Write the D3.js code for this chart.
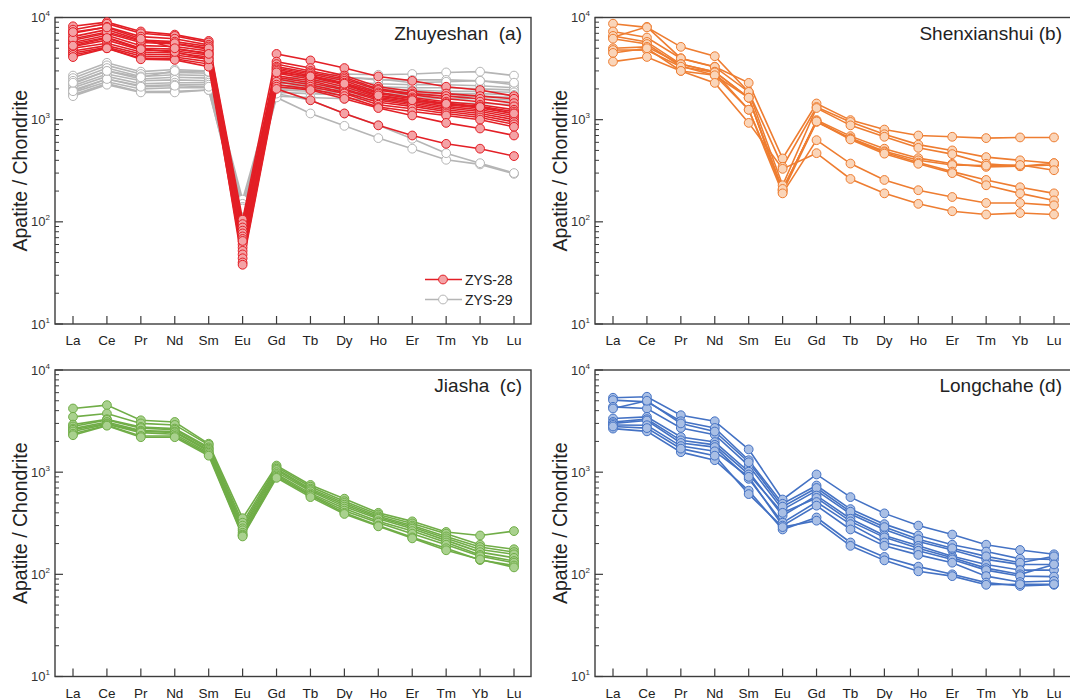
<!DOCTYPE html>
<html>
<head>
<meta charset="utf-8">
<script src="https://cdn.jsdelivr.net/npm/d3@7"></script>
<style>
  body { margin: 0; background: #fff; }
  svg { display: block; font-family: "Liberation Sans", Arial, sans-serif; }
</style>
</head>
<body>
<div id="chart"></div>
<script>
// REE elements on the x axis
const ree = ["La", "Ce", "Pr", "Nd", "Sm", "Eu", "Gd", "Tb", "Dy", "Ho", "Er", "Tm", "Yb", "Lu"];
const yExponents = [1, 2, 3, 4];

// Zhuyeshan, sample ZYS-28
const zys28 = [
  [8200, 9000, 7300, 6800, 5900, 105, 4400, 3800, 3200, 2650, 2400, 2100, 1950, 1700],
  [7600, 8700, 7000, 6600, 5700, 95, 3700, 3200, 2700, 2100, 1900, 1800, 1700, 1600],
  [7000, 8100, 6500, 6200, 5400, 88, 3500, 3000, 2600, 2000, 1800, 1700, 1600, 1450],
  [6500, 7600, 6000, 5800, 5200, 82, 3300, 2900, 2500, 1950, 1750, 1600, 1500, 1350],
  [6000, 7000, 5700, 5500, 4900, 77, 3200, 2800, 2400, 1850, 1650, 1500, 1400, 1250],
  [5700, 6700, 5300, 5200, 4700, 72, 3100, 2700, 2300, 1800, 1600, 1450, 1350, 1200],
  [5500, 6400, 5000, 4900, 4500, 68, 3000, 2600, 2200, 1700, 1550, 1400, 1300, 1150],
  [5200, 6000, 4800, 4700, 4300, 64, 2850, 2500, 2100, 1650, 1500, 1350, 1250, 1100],
  [5000, 5600, 4600, 4500, 4100, 60, 2700, 2400, 2000, 1600, 1450, 1300, 1200, 1050],
  [4700, 5300, 4400, 4300, 3900, 56, 2600, 2300, 1950, 1550, 1400, 1250, 1150, 1000],
  [4500, 5100, 4200, 4100, 3700, 52, 2500, 2200, 1850, 1480, 1350, 1200, 1100, 950],
  [4300, 5000, 4000, 3950, 3500, 48, 2350, 2100, 1800, 1400, 1280, 1150, 1050, 900],
  [4100, 5000, 3900, 3850, 3300, 44, 2200, 2000, 1700, 1330, 1200, 1100, 1000, 850],
  [6200, 7200, 5900, 5600, 5000, 40, 2100, 1950, 1600, 1300, 1100, 930, 820, 700],
  [5300, 6300, 4900, 4600, 3900, 38, 2000, 1550, 1150, 880, 700, 580, 520, 440],
  [7200, 8000, 6200, 5000, 4400, 65, 2900, 2650, 2250, 1730, 1550, 1430, 1330, 1150]
];

// Zhuyeshan, sample ZYS-29
const zys29 = [
  [2700, 3600, 2950, 3100, 3000, 165, 2450, 2700, 2800, 2750, 2800, 2900, 2950, 2700],
  [2550, 3400, 2800, 2900, 2850, 150, 2350, 2500, 2600, 2450, 2450, 2450, 2400, 2200],
  [2400, 3200, 2650, 2750, 2700, 140, 2250, 2350, 2350, 2250, 2200, 2200, 2150, 2050],
  [2250, 3000, 2500, 2600, 2550, 130, 2150, 2200, 2150, 2100, 2050, 2050, 2000, 1950],
  [2150, 2800, 2400, 2450, 2400, 125, 2050, 2100, 2050, 2000, 1950, 1900, 1900, 1850],
  [2050, 2650, 2250, 2300, 2300, 120, 2000, 2000, 1950, 1900, 1850, 1800, 1800, 1750],
  [1950, 2500, 2150, 2200, 2200, 115, 1950, 1900, 1850, 1800, 1750, 1700, 1700, 1650],
  [1850, 2350, 2000, 2050, 2050, 110, 1850, 1800, 1750, 1700, 1650, 1600, 1600, 1550],
  [1750, 2250, 1880, 1900, 1950, 105, 1700, 1650, 1600, 1550, 1500, 1450, 1450, 1400],
  [1700, 2200, 1850, 1850, 1950, 100, 1650, 1150, 870, 660, 520, 405, 365, 295],
  [1900, 2500, 2100, 2150, 2100, 110, 1800, 1550, 1150, 880, 650, 470, 375, 300],
  [2300, 3000, 2600, 3000, 2950, 135, 2250, 2300, 2600, 2500, 2300, 2350, 2400, 2300]
];

// Shenxianshui
const shenxianshui = [
  [6400, 8100, 4000, 3300, 2290, 417, 1440, 990, 800, 700, 680, 660, 670, 670],
  [8700, 8000, 5160, 4180, 1870, 345, 1330, 950, 720, 570, 500, 430, 400, 375],
  [7300, 6360, 3970, 3280, 1870, 228, 1300, 880, 680, 530, 460, 370, 350, 360],
  [6600, 5770, 3500, 2930, 1640, 203, 990, 690, 520, 420, 370, 345, 350, 375],
  [6200, 5500, 3330, 2720, 1640, 195, 950, 660, 490, 400, 360, 355, 360, 320],
  [5000, 5160, 3490, 2950, 1640, 205, 970, 650, 480, 380, 310, 257, 218, 190],
  [4800, 4790, 3300, 2900, 1250, 210, 960, 640, 465, 370, 300, 228, 190, 162],
  [4500, 5000, 3000, 2720, 1250, 190, 630, 372, 257, 204, 175, 153, 153, 145],
  [3700, 4110, 3000, 2290, 930, 330, 470, 263, 190, 150, 127, 118, 122, 118]
];

// Jiasha
const jiasha = [
  [4200, 4530, 3220, 3100, 1900, 354, 1160, 750, 550, 400, 330, 260, 240, 265],
  [3480, 3750, 3000, 2900, 1850, 320, 1120, 720, 520, 385, 315, 250, 195, 176],
  [2920, 3300, 2770, 2670, 1750, 300, 1080, 690, 500, 370, 300, 235, 185, 165],
  [2800, 3250, 2700, 2600, 1700, 282, 1050, 670, 480, 360, 290, 225, 175, 157],
  [2670, 3100, 2550, 2500, 1650, 270, 1000, 650, 460, 350, 280, 215, 165, 145],
  [2600, 3000, 2500, 2450, 1600, 255, 960, 620, 440, 330, 265, 205, 155, 135],
  [2500, 2950, 2440, 2350, 1550, 245, 930, 600, 420, 320, 250, 195, 150, 130],
  [2380, 2880, 2260, 2260, 1500, 240, 900, 590, 400, 300, 230, 180, 138, 122],
  [2300, 2850, 2200, 2200, 1450, 235, 880, 570, 390, 295, 225, 172, 140, 117]
];

// Longchahe
const longchahe = [
  [5350, 5470, 3610, 3150, 1670, 540, 950, 570, 395, 300, 245, 195, 173, 157],
  [5070, 4880, 3150, 2710, 1310, 490, 740, 435, 310, 240, 195, 167, 142, 140],
  [4360, 4200, 2710, 2330, 1160, 430, 660, 390, 275, 210, 173, 140, 125, 125],
  [4200, 5000, 3000, 2500, 1250, 460, 700, 410, 290, 220, 180, 150, 130, 150],
  [3350, 3480, 2210, 1970, 1010, 375, 590, 350, 240, 190, 150, 125, 110, 110],
  [3100, 3300, 2050, 1850, 950, 400, 560, 330, 230, 180, 145, 115, 100, 125],
  [3000, 3200, 1930, 1760, 860, 320, 510, 310, 205, 170, 140, 110, 96, 95],
  [2900, 2880, 1800, 1600, 900, 300, 470, 275, 190, 155, 130, 96, 84, 86],
  [2670, 2510, 1570, 1310, 660, 275, 360, 205, 148, 119, 100, 83, 77, 79],
  [2800, 2700, 1700, 1450, 610, 290, 335, 190, 137, 107, 96, 79, 80, 80]
];

const width = 1070, height = 699;
const svg = d3.select("#chart").append("svg")
  .attr("width", width)
  .attr("height", height);

const axisColor = "#3c3c3c";

function drawPanel(opts) {
  const { left, top, title, series } = opts;
  const right = left + 476, bottom = top + 306.5;
  const g = svg.append("g");

  const x = d3.scalePoint().domain(ree).range([left + 18, right - 17]);
  const y = d3.scaleLog().domain([10, 10000]).range([bottom, top]);

  // minor + major y ticks (inward)
  const minor = [];
  yExponents.slice(0, 3).forEach((e) => {
    for (let k = 2; k <= 9; k++) minor.push(k * Math.pow(10, e));
  });
  g.selectAll(".minor").data(minor).enter().append("line")
    .attr("x1", left).attr("x2", left + 4)
    .attr("y1", (d) => y(d)).attr("y2", (d) => y(d))
    .attr("stroke", axisColor).attr("stroke-width", 1);
  g.selectAll(".major").data(yExponents).enter().append("line")
    .attr("x1", left).attr("x2", left + 8)
    .attr("y1", (d) => y(Math.pow(10, d))).attr("y2", (d) => y(Math.pow(10, d)))
    .attr("stroke", axisColor).attr("stroke-width", 1.2);

  // y tick labels 10^n
  const lab = g.selectAll(".ylab").data(yExponents).enter().append("text")
    .attr("x", left - 5)
    .attr("y", (d) => y(Math.pow(10, d)) + 4.5)
    .attr("text-anchor", "end")
    .attr("font-size", 13)
    .attr("fill", "#333");
  lab.append("tspan").text("10");
  lab.append("tspan").attr("dy", -6).attr("font-size", 8).text((d) => d);

  // x ticks (inward) and labels
  g.selectAll(".xt").data(ree).enter().append("line")
    .attr("x1", (d) => x(d)).attr("x2", (d) => x(d))
    .attr("y1", bottom).attr("y2", bottom - 8)
    .attr("stroke", axisColor).attr("stroke-width", 1.2);
  g.selectAll(".xl").data(ree).enter().append("text")
    .attr("x", (d) => x(d))
    .attr("y", bottom + 21)
    .attr("text-anchor", "middle")
    .attr("font-size", 13.5)
    .attr("fill", "#222")
    .text((d) => d);

  // frame
  g.append("rect")
    .attr("x", left).attr("y", top)
    .attr("width", right - left).attr("height", bottom - top)
    .attr("fill", "none")
    .attr("stroke", axisColor)
    .attr("stroke-width", 1.4);

  // y title
  g.append("text")
    .attr("transform", `translate(${left - 28},${(top + bottom) / 2}) rotate(-90)`)
    .attr("text-anchor", "middle")
    .attr("font-size", 19.5)
    .attr("fill", "#222")
    .text("Apatite / Chondrite");

  // panel title
  g.append("text")
    .attr("x", left + 467)
    .attr("y", top + 22)
    .attr("text-anchor", "end")
    .attr("font-size", 19)
    .attr("fill", "#222")
    .style("white-space", "pre")
    .text(title);

  const line = d3.line().x((d, i) => x(ree[i])).y((d) => y(d));

  series.forEach((s) => {
    const sg = g.append("g");
    sg.selectAll("path").data(s.data).enter().append("path")
      .attr("d", line)
      .attr("fill", "none")
      .attr("stroke", s.stroke)
      .attr("stroke-width", 1.6);
    s.data.forEach((row) => {
      sg.append("g").selectAll("circle").data(row).enter().append("circle")
        .attr("cx", (d, i) => x(ree[i]))
        .attr("cy", (d) => y(d))
        .attr("r", 4.4)
        .attr("fill", s.fill)
        .attr("stroke", s.stroke)
        .attr("stroke-width", 1);
    });
  });

  return { g, x, y, right, bottom };
}

const red = { stroke: "#e31f26", fill: "#f4a3a6" };
const grey = { stroke: "#b5b5b5", fill: "#ffffff" };

const pa = drawPanel({
  left: 55, top: 17.5, title: "Zhuyeshan  (a)",
  series: [
    { data: zys29, ...grey },
    { data: zys28, ...red }
  ]
});
drawPanel({
  left: 595, top: 17.5, title: "Shenxianshui (b)",
  series: [{ data: shenxianshui, stroke: "#ee7d31", fill: "#fad5b9" }]
});
drawPanel({
  left: 55, top: 370, title: "Jiasha  (c)",
  series: [{ data: jiasha, stroke: "#70ad47", fill: "#a9d18e" }]
});
drawPanel({
  left: 595, top: 370, title: "Longchahe (d)",
  series: [{ data: longchahe, stroke: "#4472c4", fill: "#a9bfe5" }]
});

// legend in panel (a)
const legend = [
  { name: "ZYS-28", ...red },
  { name: "ZYS-29", ...grey }
];
const lg = pa.g.append("g").selectAll("g").data(legend).enter().append("g")
  .attr("transform", (d, i) => `translate(425,${279.5 + i * 20})`);
lg.append("line").attr("x1", 0).attr("x2", 37)
  .attr("stroke", (d) => d.stroke).attr("stroke-width", 1.5);
lg.append("circle").attr("cx", 18).attr("r", 4.4)
  .attr("fill", (d) => d.fill).attr("stroke", (d) => d.stroke);
lg.append("text").attr("x", 40).attr("y", 5)
  .attr("font-size", 14).attr("fill", "#222")
  .text((d) => d.name);
</script>
</body>
</html>
